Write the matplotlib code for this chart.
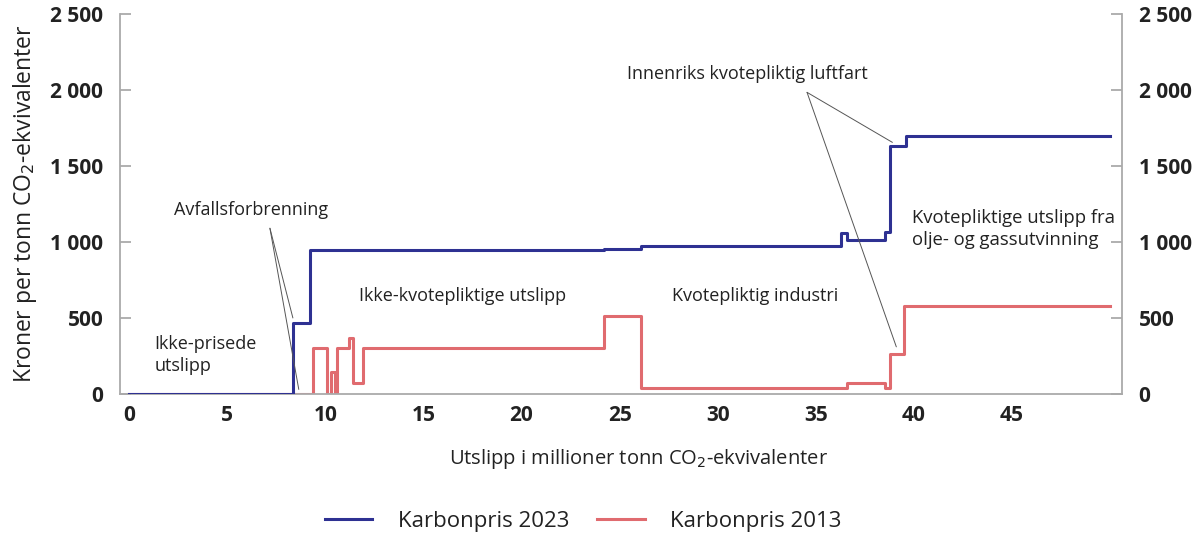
import matplotlib
matplotlib.use('Agg')
import matplotlib.pyplot as plt
from matplotlib.ticker import FuncFormatter

plt.rcParams['font.family'] = ['Open Sans', 'DejaVu Sans']

# step data: value holds from x[i] to x[i+1]
blue_x = [0, 8.35, 9.2, 24.2, 26.1, 36.3, 36.6, 38.5, 38.8, 39.6, 50.0]
blue_y = [0, 470, 950, 955, 975, 1060, 1010, 1065, 1630, 1700, 1700]

red_x = [0, 9.35, 10.1, 10.3, 10.5, 10.6, 11.2, 11.4, 11.9, 24.2, 26.1, 36.6, 38.5, 38.8, 39.5, 50.0]
red_y = [0, 300, 0, 145, 0, 300, 370, 70, 300, 515, 40, 75, 40, 265, 580, 580]

blue = '#2e3192'
red = '#e06b6f'
grey = '#aaaaaa'
dark = '#222222'

fig = plt.figure(figsize=(12, 5.35), dpi=100)
ax = fig.add_axes([0.1, 0.2636, 0.835, 0.7104])

ax.step(blue_x, blue_y, where='post', color=blue, lw=2.2, label='Karbonpris 2023', zorder=3)
ax.step(red_x, red_y, where='post', color=red, lw=2.2, label='Karbonpris 2013', zorder=2)

ax.set_xlim(-0.46, 50.6)
ax.set_ylim(0, 2500)
ax.set_xticks(range(0, 50, 5))
ax.set_yticks(range(0, 2501, 500))
ax.yaxis.set_major_formatter(FuncFormatter(lambda v, p: f"{v:,.0f}".replace(',', ' ')))

for s in ax.spines.values():
    s.set_color(grey)
    s.set_linewidth(1.3)
ax.spines['top'].set_visible(False)

ax.tick_params(axis='y', direction='in', length=8, width=1.3, color=grey,
               left=True, right=True, labelleft=True, labelright=True,
               labelsize=15, labelcolor=dark, pad=12)
ax.tick_params(axis='x', length=0, labelsize=15, labelcolor=dark, pad=8)
for lab in ax.get_xticklabels():
    lab.set_fontweight('bold')
for t in ax.yaxis.get_major_ticks():
    t.label1.set_fontweight('bold')
    t.label2.set_fontweight('bold')

ax.set_xlabel('Utslipp i millioner tonn CO$_2$-ekvivalenter', fontsize=14.5, color=dark,
              labelpad=15, x=0.517)
ax.set_ylabel('Kroner per tonn CO$_2$-ekvivalenter', fontsize=16.5, color=dark, labelpad=8)

txt = dict(fontsize=13, color=dark)
line = dict(arrowstyle='-', color='#555555', lw=0.7, shrinkA=0, shrinkB=0)

# Avfallsforbrenning
ax.text(6.2, 1210, 'Avfallsforbrenning', ha='center', va='center', **txt)
ax.annotate('', xy=(8.35, 500), xytext=(7.18, 1090), arrowprops=line)
ax.annotate('', xy=(8.65, 30), xytext=(7.18, 1090), arrowprops=line)

# Innenriks kvotepliktig luftfart
ax.text(31.5, 2105, 'Innenriks kvotepliktig luftfart', ha='center', va='center', **txt)
ax.annotate('', xy=(38.9, 1655), xytext=(34.55, 1984), arrowprops=line)
ax.annotate('', xy=(39.1, 310), xytext=(34.55, 1984), arrowprops=line)

ax.text(39.9, 1085, 'Kvotepliktige utslipp fra\nolje- og gassutvinning', ha='left', va='center',
        linespacing=1.3, fontsize=13.3, color=dark)
ax.text(31.9, 645, 'Kvotepliktig industri', ha='center', va='center', **txt)
ax.text(17.0, 645, 'Ikke-kvotepliktige utslipp', ha='center', va='center', **txt)
ax.text(1.3, 255, 'Ikke-prisede\nutslipp', ha='left', va='center', linespacing=1.25, **txt)

fig.legend(loc='center', bbox_to_anchor=(0.486, 0.026), ncol=2, frameon=False,
           fontsize=16, handlelength=2.15, handletextpad=1.15, columnspacing=1.25,
           labelcolor=dark)

fig.savefig('out.png', dpi=100)
